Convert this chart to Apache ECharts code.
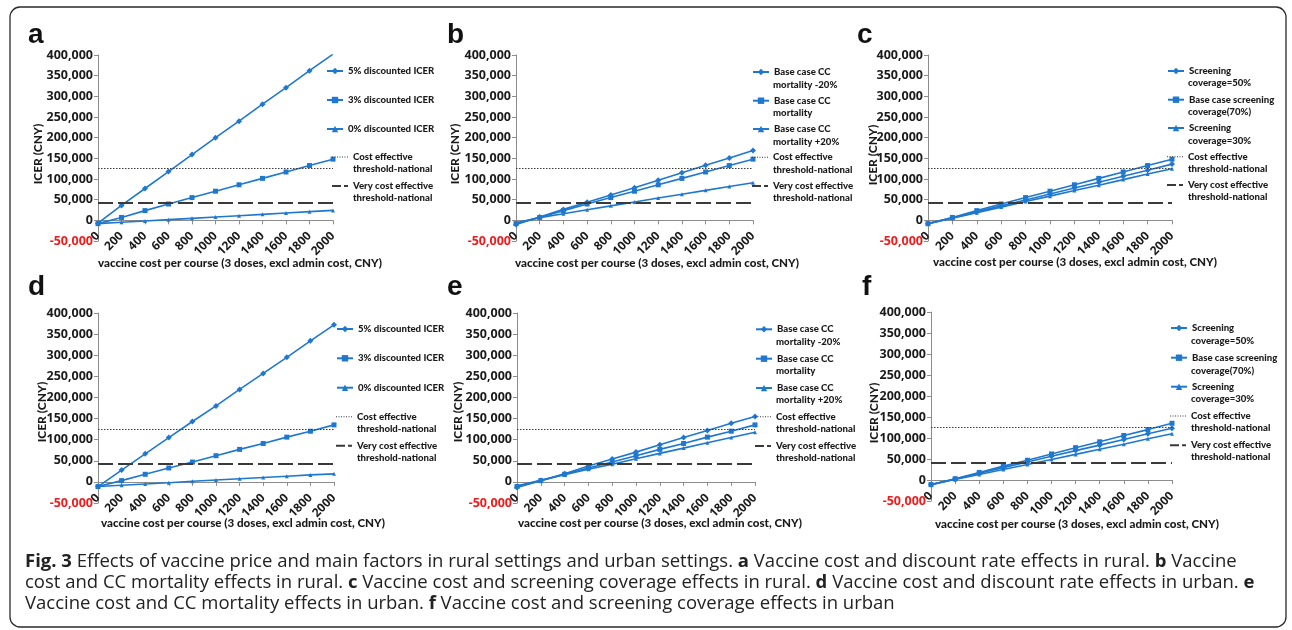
<!DOCTYPE html>
<html>
<head>
<meta charset="utf-8">
<title>Effects of vaccine price and main factors</title>
<script src="https://cdn.jsdelivr.net/npm/echarts@6/dist/echarts.min.js"></script>
<style>
  html, body { margin: 0; padding: 0; background: #fff; }
  #chart { width: 1292px; height: 630px; }
</style>
</head>
<body>
<div id="chart"></div>
<script>
// Vaccine cost per course (CNY), x categories shared by all panels
const COST = ['0', '200', '400', '600', '800', '1000', '1200', '1400', '1600', '1800', '2000'];

// Rural settings: ICER (CNY) by discount rate
const RURAL_DISC5 = [-7000, 36000, 77000, 118000, 159000, 200000, 240000, 281000, 321000, 362000, 402000];
const RURAL_DISC3 = [-8000, 7000, 23500, 39500, 55000, 70500, 86000, 101500, 117000, 132500, 148000];
const RURAL_DISC0 = [-8000, -4800, -1600, 1600, 4800, 8000, 11200, 14500, 17700, 21000, 24000];
// Rural settings: ICER by CC mortality
const RURAL_MORT_M20 = [-10000, 8000, 26500, 44000, 61500, 79000, 97000, 115000, 133000, 151000, 169000];
const RURAL_MORT_BASE = [-8000, 7000, 23500, 39500, 55000, 70500, 86000, 101500, 117000, 132500, 148000];
const RURAL_MORT_P20 = [-6000, 6500, 16000, 25500, 35000, 44500, 54000, 63000, 72500, 82000, 91000];
// Rural settings: ICER by screening coverage
const RURAL_SCR50 = [-8000, 6000, 20500, 35000, 49000, 63500, 78000, 92000, 106500, 121000, 136000];
const RURAL_SCR70 = [-8000, 7000, 23500, 39500, 55000, 70500, 86000, 101500, 117000, 132500, 148000];
const RURAL_SCR30 = [-8000, 5000, 18500, 32000, 45500, 58500, 72000, 85000, 98500, 112000, 125000];

// Urban settings: ICER by discount rate
const URBAN_DISC5 = [-11000, 28000, 66500, 105000, 143000, 180000, 219000, 257000, 295000, 334000, 372000];
const URBAN_DISC3 = [-11000, 3000, 18000, 33000, 47000, 62000, 77000, 91000, 106000, 120000, 135000];
const URBAN_DISC0 = [-11000, -8000, -5000, -2000, 1500, 4500, 7500, 10500, 13500, 16500, 19000];
// Urban settings: ICER by CC mortality
const URBAN_MORT_M20 = [-13000, 3000, 19500, 37500, 54000, 70500, 88000, 105000, 121500, 139000, 155000];
const URBAN_MORT_BASE = [-11000, 3000, 18000, 33000, 47000, 62000, 77000, 91000, 106000, 120000, 135000];
const URBAN_MORT_P20 = [-9000, 4000, 17000, 30000, 42000, 55000, 67500, 80000, 92500, 105000, 117500];
// Urban settings: ICER by screening coverage
const URBAN_SCR50 = [-11000, 2500, 16000, 29500, 43000, 56500, 70000, 83000, 96500, 110000, 123000];
const URBAN_SCR70 = [-11000, 3000, 18000, 33000, 47000, 62000, 77000, 91000, 106000, 120000, 135000];
const URBAN_SCR30 = [-11000, 1000, 13000, 25000, 37000, 49000, 61000, 73000, 85000, 98000, 110000];

// National willingness-to-pay thresholds (CNY)
const CE_THRESHOLD = 125724;
const VCE_THRESHOLD = 41908;

// Series names
const DISC_NAMES = ['5% discounted ICER', '3% discounted ICER', '0% discounted ICER'];
const MORT_NAMES = ['Base case CC mortality -20%', 'Base case CC mortality', 'Base case CC mortality +20%'];
const SCR_NAMES = ['Screening coverage=50%', 'Base case screening coverage(70%)', 'Screening coverage=30%'];
const CE_NAME = 'Cost effective threshold-national';
const VCE_NAME = 'Very cost effective threshold-national';

// How each legend label is broken over lines
const LEGEND_LINES = {
  '5% discounted ICER': ['5% discounted ICER'],
  '3% discounted ICER': ['3% discounted ICER'],
  '0% discounted ICER': ['0% discounted ICER'],
  'Base case CC mortality -20%': ['Base case CC', 'mortality -20%'],
  'Base case CC mortality': ['Base case CC', 'mortality'],
  'Base case CC mortality +20%': ['Base case CC', 'mortality +20%'],
  'Screening coverage=50%': ['Screening', 'coverage=50%'],
  'Base case screening coverage(70%)': ['Base case screening', 'coverage(70%)'],
  'Screening coverage=30%': ['Screening', 'coverage=30%'],
  'Cost effective threshold-national': ['Cost effective', 'threshold-national'],
  'Very cost effective threshold-national': ['Very cost effective', 'threshold-national']
};

const X_TITLE = 'vaccine cost per course (3 doses, excl admin cost, CNY)';
const Y_TITLE = 'ICER (CNY)';

const CAPTION = [
  '{b|Fig. 3} Effects of vaccine price and main factors in rural settings and urban settings. {b|a} Vaccine cost and discount rate effects in rural. {b|b} Vaccine',
  'cost and CC mortality effects in rural. {b|c} Vaccine cost and screening coverage effects in rural. {b|d} Vaccine cost and discount rate effects in urban. {b|e}',
  'Vaccine cost and CC mortality effects in urban. {b|f} Vaccine cost and screening coverage effects in urban'
];

// ---- styling ----
const BLUE = '#1e78cf';
const AXIS_GRAY = '#8c8c8c';
const TEXT = '#1a1a1a';
const THRESH_COLOR = '#3a3a3a';
const FONT_TICK = "'Open Sans', 'Liberation Sans', sans-serif";
const FONT_LABEL = "Lato, 'Liberation Sans', sans-serif";
const FONT_LETTER = "'Liberation Sans', Arial, sans-serif";
const FONT_CAPTION = "'Open Sans', 'Noto Sans', sans-serif";
const LABEL_WEIGHT = 900;
const SYMBOLS = ['diamond', 'rect', 'triangle'];
const SYMBOL_SIZES = [6, 5, 4];

// legend icons for the two threshold lines (dotted / long-short dash)
const ICON_DOTTED = 'path://M0,0h1v1h-1zM2.5,0h1v1h-1zM5,0h1v1h-1zM7.5,0h1v1h-1zM10,0h1v1h-1zM12.5,0h1v1h-1zM15,0h1v1h-1z';
const ICON_DASHED = 'path://M0,0h9v2h-9zM12,0h4v2h-4z';

// ---- panel layout ----
const PANELS = [
  { letter: 'a', letterXY: [28, 35], grid: { left: 98, top: 55, width: 235, height: 186 },
    data: [RURAL_DISC5, RURAL_DISC3, RURAL_DISC0], names: DISC_NAMES,
    yTitleXY: [38, 154], xTitleXY: [240, 263],
    legendX: [347, 347, 347, 353, 353], legendRows: [71, 100, 129, 157, 186], legendRows2: [null, null, null, 169, 198] },
  { letter: 'b', letterXY: [447, 35], grid: { left: 516, top: 55, width: 237, height: 186 },
    data: [RURAL_MORT_M20, RURAL_MORT_BASE, RURAL_MORT_P20], names: MORT_NAMES,
    yTitleXY: [455, 154], xTitleXY: [657, 263],
    legendX: [773, 773, 773, 773, 773], legendRows: [72, 100.7, 129, 157.3, 186], legendRows2: [84.5, 113, 141.7, 169.7, 198] },
  { letter: 'c', letterXY: [857, 35], grid: { left: 928, top: 55, width: 244, height: 186 },
    data: [RURAL_SCR50, RURAL_SCR70, RURAL_SCR30], names: SCR_NAMES,
    yTitleXY: [873, 155], xTitleXY: [1075, 262],
    legendX: [1188, 1188, 1188, 1188, 1188], legendRows: [71, 99.7, 128, 156.7, 185], legendRows2: [83.3, 112.3, 140.7, 169, 197.3] },
  { letter: 'd', letterXY: [28, 287], grid: { left: 98, top: 313, width: 236, height: 190 },
    data: [URBAN_DISC5, URBAN_DISC3, URBAN_DISC0], names: DISC_NAMES,
    yTitleXY: [42, 412], xTitleXY: [243, 523],
    legendX: [357, 357, 357, 357, 357], legendRows: [329, 358.3, 387.7, 416.7, 445.7], legendRows2: [null, null, null, 429.3, 458.3] },
  { letter: 'e', letterXY: [447, 287], grid: { left: 517, top: 313, width: 238, height: 190 },
    data: [URBAN_MORT_M20, URBAN_MORT_BASE, URBAN_MORT_P20], names: MORT_NAMES,
    yTitleXY: [458, 412], xTitleXY: [660, 523],
    legendX: [776, 776, 776, 776, 776], legendRows: [329.3, 358.7, 388, 416.7, 446], legendRows2: [342.3, 371, 400, 429, 458.3] },
  { letter: 'f', letterXY: [862, 287], grid: { left: 931, top: 312, width: 241, height: 189 },
    data: [URBAN_SCR50, URBAN_SCR70, URBAN_SCR30], names: SCR_NAMES,
    yTitleXY: [874, 413], xTitleXY: [1077, 524],
    legendX: [1191, 1191, 1191, 1191, 1191], legendRows: [328, 357.7, 386.7, 416, 445.3], legendRows2: [340.7, 370.7, 399.3, 428.3, 457.3] }
];

const LEGEND_ICON_W = 16;
const LEGEND_LINE_H = 12;
const LEGEND_FONT = { fontFamily: FONT_LABEL, fontWeight: LABEL_WEIGHT, fontSize: 9.6, color: TEXT };

const option = {
  animation: false,
  backgroundColor: '#ffffff',
  grid: [], xAxis: [], yAxis: [], series: [], legend: [],
  graphic: []
};

// outer frame
option.graphic.push({
  type: 'rect', silent: true,
  shape: { x: 10, y: 7, width: 1276, height: 620, r: 10 },
  style: { fill: 'none', stroke: '#2a2a2a', lineWidth: 1.3 }
});

PANELS.forEach((p, i) => {
  option.grid.push(Object.assign({ containLabel: false, outerBoundsMode: 'none' }, p.grid));

  // category axis carrying the rotated labels along the bottom edge
  option.xAxis.push({
    gridIndex: i, type: 'category', data: COST, boundaryGap: false, position: 'bottom',
    axisLine: { show: false, onZero: false }, axisTick: { show: false }, splitLine: { show: false },
    axisLabel: { interval: 0, rotate: 45, margin: -7, fontFamily: FONT_TICK, fontWeight: 'bold', fontSize: 12, color: TEXT }
  });
  // the same axis drawn as a line through zero, with tick marks
  option.xAxis.push({
    gridIndex: i, type: 'category', data: COST, boundaryGap: false, position: 'bottom',
    axisLine: { show: true, onZero: true, lineStyle: { color: AXIS_GRAY, width: 1 } },
    axisTick: { show: true, interval: 0, length: 4, lineStyle: { color: AXIS_GRAY } },
    axisLabel: { show: false }, splitLine: { show: false }
  });
  option.yAxis.push({
    gridIndex: i, type: 'value', min: -50000, max: 400000, interval: 50000,
    axisLine: { show: true, onZero: false, lineStyle: { color: AXIS_GRAY, width: 1 } },
    axisTick: { show: true, length: 4, lineStyle: { color: AXIS_GRAY } },
    splitLine: { show: false },
    axisLabel: {
      margin: 5, fontFamily: FONT_TICK, fontWeight: 'bold', fontSize: 12.5,
      formatter: v => v.toLocaleString('en-US'),
      color: v => (Number(v) < 0 ? '#ee1c1c' : TEXT)
    }
  });

  p.data.forEach((vals, k) => {
    option.series.push({
      type: 'line', name: p.names[k], xAxisIndex: 2 * i, yAxisIndex: i,
      data: vals, symbol: SYMBOLS[k], symbolSize: SYMBOL_SIZES[k], showSymbol: true,
      lineStyle: { color: BLUE, width: 1.6 }, itemStyle: { color: BLUE },
      silent: true, z: 3
    });
  });

  const thresholds = [
    { name: CE_NAME, value: CE_THRESHOLD, style: { color: THRESH_COLOR, width: 1, type: [1.5, 1.5] } },
    { name: VCE_NAME, value: VCE_THRESHOLD, style: { color: THRESH_COLOR, width: 2, type: [15, 5] } }
  ];
  thresholds.forEach(t => {
    option.series.push({
      type: 'line', name: t.name, xAxisIndex: 2 * i, yAxisIndex: i, data: [],
      symbol: 'none', lineStyle: t.style, itemStyle: { color: t.style.color }, z: 2,
      markLine: {
        silent: true, symbol: ['none', 'none'], label: { show: false },
        lineStyle: t.style, data: [{ yAxis: t.value }]
      }
    });
  });

  // legend: one entry per component so each can sit on its own row
  const entries = [...p.names, CE_NAME, VCE_NAME];
  entries.forEach((name, k) => {
    const lines = LEGEND_LINES[name];
    let item = name, iw = LEGEND_ICON_W, ih = 8;
    if (name === CE_NAME) { item = { name, icon: ICON_DOTTED }; iw = 16; ih = 1; }
    if (name === VCE_NAME) { item = { name, icon: ICON_DASHED }; iw = 16; ih = 2; }
    option.legend.push({
      data: [item], orient: 'horizontal', padding: 0, itemGap: 0,
      left: p.legendX[k] - 5 - iw, top: p.legendRows[k] - LEGEND_LINE_H / 2,
      itemWidth: iw, itemHeight: ih, selectedMode: false,
      formatter: () => lines[0],
      textStyle: Object.assign({ lineHeight: LEGEND_LINE_H }, LEGEND_FONT)
    });
    if (lines[1] && p.legendRows2[k] != null) {
      option.graphic.push({
        type: 'text', silent: true, x: p.legendX[k], y: p.legendRows2[k],
        style: { text: lines[1], align: 'left', verticalAlign: 'middle',
          fontFamily: LEGEND_FONT.fontFamily, fontWeight: LABEL_WEIGHT, fontSize: LEGEND_FONT.fontSize, fill: TEXT }
      });
    }
  });

  // panel letter, axis titles
  option.graphic.push({
    type: 'text', silent: true, x: p.letterXY[0], y: p.letterXY[1],
    style: { text: p.letter, align: 'left', verticalAlign: 'middle', fontFamily: FONT_LETTER, fontWeight: 'bold', fontSize: 28, fill: '#111' }
  });
  option.graphic.push({
    type: 'text', silent: true, x: p.xTitleXY[0], y: p.xTitleXY[1],
    style: { text: X_TITLE, align: 'center', verticalAlign: 'middle', fontFamily: FONT_LABEL, fontWeight: LABEL_WEIGHT, fontSize: 11.6, fill: TEXT }
  });
  option.graphic.push({
    type: 'text', silent: true, x: p.yTitleXY[0], y: p.yTitleXY[1], rotation: Math.PI / 2,
    style: { text: Y_TITLE, align: 'center', verticalAlign: 'middle', fontFamily: FONT_LABEL, fontWeight: LABEL_WEIGHT, fontSize: 12, fill: TEXT }
  });
});

// caption under the panels
const CAPTION_Y = [562, 583, 604];
CAPTION.forEach((line, j) => {
  option.graphic.push({
    type: 'text', silent: true, x: 25, y: CAPTION_Y[j],
    style: {
      text: line, align: 'left', verticalAlign: 'middle',
      fontFamily: FONT_CAPTION, fontSize: 18.5, fill: '#222',
      rich: { b: { fontFamily: FONT_CAPTION, fontSize: 18.5, fontWeight: 'bold', fill: '#222' } }
    }
  });
});

const chart = echarts.init(document.getElementById('chart'), null, { renderer: 'canvas', width: 1292, height: 630 });
chart.setOption(option);
</script>
</body>
</html>
